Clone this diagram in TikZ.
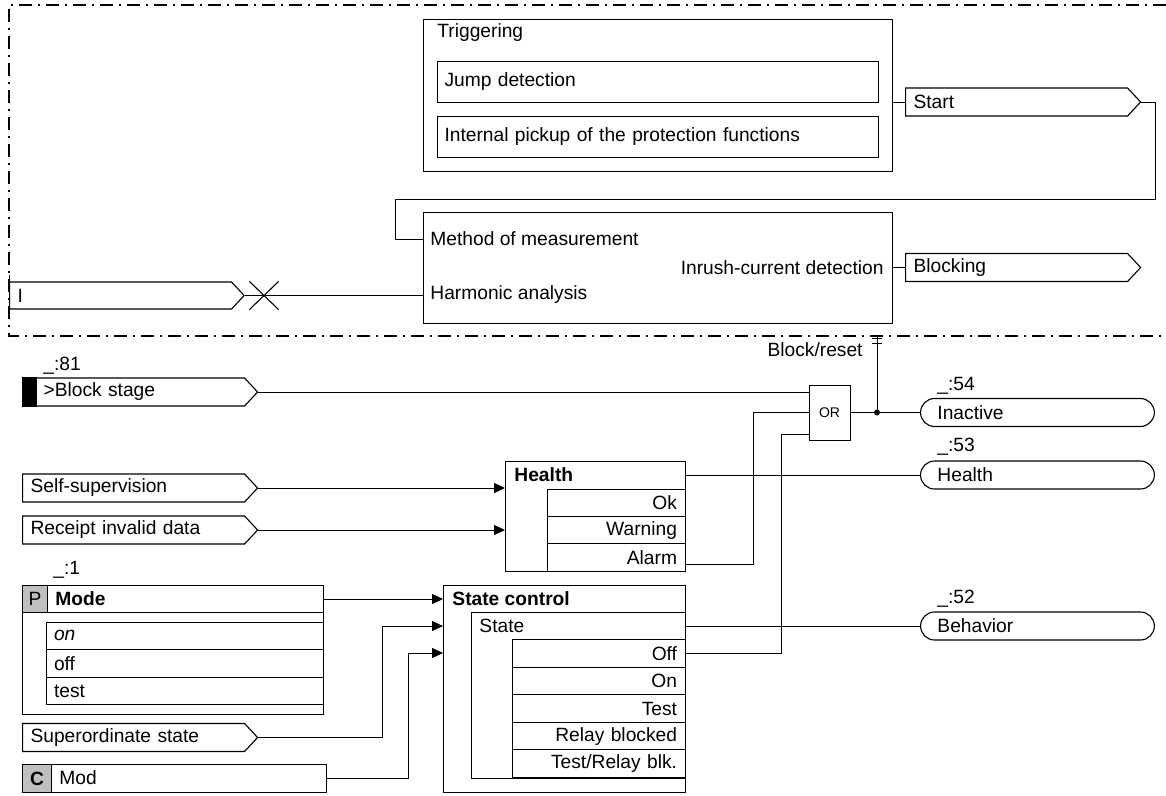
\documentclass[tikz,border=0pt]{standalone}
\usepackage{fontspec}
\setmainfont{Liberation Sans}
\usetikzlibrary{arrows.meta,positioning,shapes.symbols,shapes.misc}
\tikzset{
  txt/.style={font=\fontsize{19.2}{22}\selectfont},
  bold/.style={font=\fontsize{19.2}{22}\selectfont\bfseries},
  box/.style={draw, line width=1pt, anchor=north west, inner sep=0pt, outer sep=0pt},
  item/.style={draw, line width=1pt, anchor=north west, inner xsep=7pt, inner ysep=0pt, align=left},
  row/.style={draw, line width=1pt, anchor=north west, minimum height=27.6pt, inner xsep=8pt, inner ysep=0pt, outer sep=0pt},
  cell/.style={draw, line width=1pt, fill=black!25, anchor=north west, inner sep=0pt, minimum height=27pt},
  sig/.style={draw, line width=1.1pt, signal, signal to=east, signal from=nowhere, signal pointer angle=94,
    minimum height=28pt, inner xsep=8pt, inner ysep=0pt, text width=206pt, align=left, anchor=west},
  outp/.style={draw, line width=1.1pt, rounded rectangle, minimum height=28pt, inner xsep=15pt, inner ysep=0pt,
    text width=200pt, align=left, anchor=west},
  lbl/.style={anchor=west, inner sep=0pt},
  tag/.style={anchor=west, inner sep=0pt},
  frame/.style={line width=1.4pt, dash pattern=on 13pt off 6pt on 2pt off 6pt},
  ->/.style={-{Triangle[length=11pt,width=10pt]}}
}

\begin{document}
\begin{tikzpicture}[x=1pt,y=-1pt, line width=0.9pt, txt]
\useasboundingbox (0,0) rectangle (1166,795);

% Function block frame
\draw[frame] (1166,5) -- (9,5) -- (9,336) -- (1166,336);

% Triggering
\node[box, minimum width=469, minimum height=152] (trig) at (423,19) {};
\node[lbl] (trigT) at (437,33) {Triggering};
\node[item, text width=427, minimum height=41] (jump) at (437,61) {Jump detection};
\node[item, text width=427, minimum height=41] (pick) at (437,116) {Internal pickup of the protection functions};
\node[sig] (start) at (905,102) {Start};

% Inrush-current detection
\node[box, minimum width=469, minimum height=111] (meas) at (423,212) {};
\node[lbl] (methT) at (430,239) {Method of measurement};
\node[lbl] (harmT) at (430,295) {Harmonic analysis};
\node[lbl, anchor=east] (inrT) at (884,267.5) {Inrush-current detection};
\node[sig] (blkg) at (905,267.5) {Blocking};
\node[sig, minimum height=27pt] (iin) at (9,295.5) {I};
\node[draw, cross out, line width=1.1pt, minimum width=28pt, minimum height=27pt] (xm) at (264,295.5) {};

% Inputs
\node[tag] (t81) at (43,366) {\_:81};
\node[sig] (bs) at (22,392) {\hspace*{13pt}>Block stage};
\fill (bs.north west) rectangle ([xshift=15pt]bs.south west);
\node[sig] (self) at (22,488) {Self-supervision};
\node[sig] (recv) at (22,530) {Receipt invalid data};
\node[sig] (sup) at (22,737.5) {Superordinate state};

% Mode parameter
\node[tag] (t1) at (53,570) {\_:1};
\node[box, minimum width=301, minimum height=129] (mode) at (22,585) {};
\node[box, minimum width=301, minimum height=27] (modeH) at (22,585) {};
\node[cell, minimum width=25] (pc) at (22,585) {P};
\node[lbl, bold] (modeT) at (55,598.5) {Mode};
\node[row, text width=261, align=left] (mon) at (46,622) {\itshape on};
\node[row, text width=261, align=left, below=0pt of mon] (moff) {off};
\node[row, text width=261, align=left, below=0pt of moff] (mtest) {test};

% Mod control
\node[box, minimum width=304, minimum height=28] (mod) at (22,764) {};
\node[cell, minimum width=29, minimum height=28, bold] (cc) at (22,764) {C};
\node[lbl] (modT) at (59,778) {Mod};

% Health
\node[box, minimum width=180, minimum height=110] (hlth) at (505,461) {};
\node[lbl, bold] (hlthT) at (514,475) {Health};
\node[row, text width=122, align=right, minimum height=27.4pt] (ok) at (547,489) {Ok};
\node[row, text width=122, align=right, minimum height=27.4pt, below=0pt of ok] (warn) {Warning};
\node[row, text width=122, align=right, minimum height=27.4pt, below=0pt of warn] (alarm) {Alarm};

% State control
\node[box, minimum width=242, minimum height=207] (sc) at (443,585) {};
\node[lbl, bold] (scT) at (452,599) {State control};
\node[box, minimum width=214, minimum height=166] (st) at (471,612) {};
\node[lbl] (stT) at (479,626) {State};
\node[row, text width=157, align=right] (off) at (512,639.5) {Off};
\node[row, text width=157, align=right, below=0pt of off] (on) {On};
\node[row, text width=157, align=right, below=0pt of on] (test) {Test};
\node[row, text width=157, align=right, below=0pt of test] (rblk) {Relay blocked};
\node[row, text width=157, align=right, below=0pt of rblk] (trblk) {Test/Relay blk.};

% OR gate
\node[box, anchor=center, minimum width=41, minimum height=55, font=\fontsize{14}{16}\selectfont] (or) at (829.5,412.5) {OR};
\node[lbl, anchor=east] (brT) at (863,350) {Block/reset};
\coordinate (brk) at (877,336);

% Outputs
\node[tag] (t54) at (937,386) {\_:54};
\node[outp] (inact) at (920,412.5) {Inactive};
\node[tag] (t53) at (937,447) {\_:53};
\node[outp] (hout) at (920,475) {Health};
\node[tag] (t52) at (937,599) {\_:52};
\node[outp] (beh) at (920,626) {Behavior};

% Connections inside the frame
\draw (start.west -| trig.east) -- (start.west);
\draw (start.east) -- ++(14,0) |- ([xshift=-28pt,yshift=13pt]meas.north west) |- (methT.west -| meas.west);
\draw (blkg.west -| meas.east) -- (blkg.west);
\draw (iin.east) -- (iin.east -| meas.west);
\draw ([yshift=6pt]iin.north west) -- ([yshift=-8pt]iin.south west);

% Connections to OR
\draw (bs.east) -- (bs.east -| or.west);
\draw ([yshift=-6.5pt]alarm.east) -- ++(68,0) |- (or.west);
\draw (off.east) -- ++(96,0) |- ([yshift=-22pt]or.west);
\draw (or.east) -- (inact.west);
\draw (brk) -- (brk |- or.east);
\fill (brk |- or.east) circle (3pt);
\draw ([xshift=-5pt,yshift=-2pt]brk) -- ++(10,0);
\draw ([xshift=-5pt,yshift=-7pt]brk) -- ++(10,0);

% Health and state
\draw[->] (self.east) -- (self.east -| hlth.west);
\draw[->] (recv.east) -- (recv.east -| hlth.west);
\draw ([yshift=-14pt]hlth.north east) -- (hout.west);
\draw[->] ([yshift=-14pt]mode.north east) -- ([yshift=-14pt]sc.north west);
\draw[->] (sup.east) -- ++(124,0) |- ([yshift=-41pt]sc.north west);
\draw[->] (mod.east) -- ++(82,0) |- ([yshift=-68pt]sc.north west);
\draw ([yshift=-14pt]st.north east) -- (beh.west);

\end{tikzpicture}
\end{document}
